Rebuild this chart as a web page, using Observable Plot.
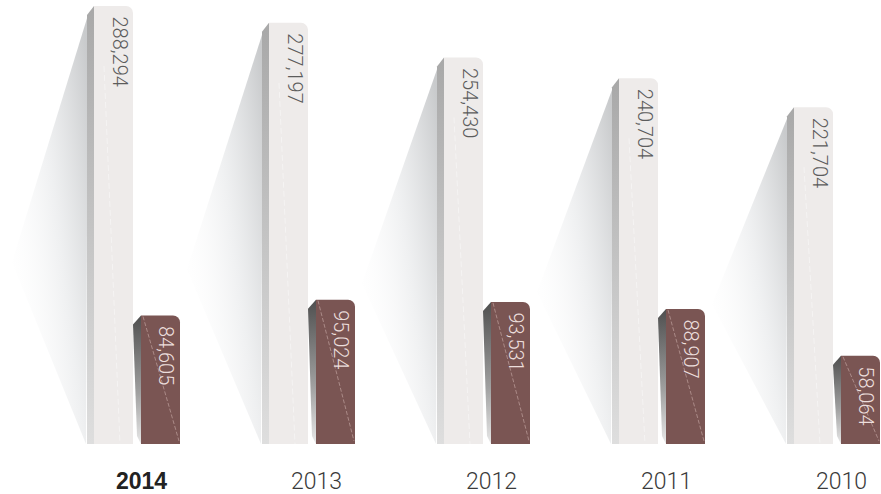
<!DOCTYPE html>
<html>
<head>
<meta charset="utf-8">
<script src="https://cdn.jsdelivr.net/npm/d3@7"></script>
<script src="https://cdn.jsdelivr.net/npm/@observablehq/plot@0.6"></script>
<style>
  html, body { margin: 0; padding: 0; background: #ffffff; }
  #chart svg { display: block; background: #ffffff; }
</style>
</head>
<body>
<div id="chart"></div>
<script>
const years = ["2014", "2013", "2012", "2011", "2010"];
const totals = [288294, 277197, 254430, 240704, 221704];
const subs = [84605, 95024, 93531, 88907, 58064];

const data = years.map((year, i) => ({year, total: totals[i], sub: subs[i]}));
const fmt = d3.format(",");
const FONT = "Roboto, 'Liberation Sans', 'DejaVu Sans', sans-serif";

const GRAY = "#eeebea";
const BROWN = "#7a5553";

// 3D side faces and shadows, positioned by Plot's scales
function depth(index, scales) {
  const x = scales.x, y = scales.y;
  let bw = typeof x.bandwidth === "function" ? x.bandwidth() : x.bandwidth;
  if (!bw) bw = 86;
  const half = bw / 2 + 4;
  const g = d3.create("svg:g");
  const defs = g.append("defs");
  const sh = defs.append("linearGradient").attr("id", "shadowGrad")
    .attr("x1", 1).attr("y1", 0.1).attr("x2", 0).attr("y2", 0.8);
  sh.append("stop").attr("offset", 0).attr("stop-color", "#bfc1c3").attr("stop-opacity", 0.85);
  sh.append("stop").attr("offset", 0.45).attr("stop-color", "#e2e4e6").attr("stop-opacity", 0.55);
  sh.append("stop").attr("offset", 1).attr("stop-color", "#ffffff").attr("stop-opacity", 0);
  const side = defs.append("linearGradient").attr("id", "sideGrad")
    .attr("x1", 0).attr("y1", 0).attr("x2", 0).attr("y2", 1);
  side.append("stop").attr("offset", 0).attr("stop-color", "#a8a8a8");
  side.append("stop").attr("offset", 1).attr("stop-color", "#dedede");
  const bside = defs.append("linearGradient").attr("id", "bsideGrad")
    .attr("x1", 0).attr("y1", 0).attr("x2", 0).attr("y2", 1);
  bside.append("stop").attr("offset", 0).attr("stop-color", "#4f4f4f");
  bside.append("stop").attr("offset", 0.6).attr("stop-color", "#a0a0a0");
  bside.append("stop").attr("offset", 1).attr("stop-color", "#e8e8e8");

  const yb = y(0);
  for (const d of data) {
    const gx0 = x(d.year);
    const yt = y(d.total);
    const tipY = yt + 0.585 * (yb - yt);
    g.append("polygon")
      .attr("points", [[gx0 - 6, yt + 9], [gx0 - 82, tipY], [gx0 - 8, yb]].map(p => p.join(",")).join(" "))
      .attr("fill", "url(#shadowGrad)");
    g.append("polygon")
      .attr("points", [[gx0 - 7, yt + 9], [gx0, yt], [gx0, yb], [gx0 - 7, yb]].map(p => p.join(",")).join(" "))
      .attr("fill", "url(#sideGrad)");
    const bx0 = gx0 + half;
    const yt2 = y(d.sub);
    g.append("polygon")
      .attr("points", [[bx0 - 8, yt2 + 9], [bx0, yt2], [bx0, yb], [bx0 - 4, yb - 8]].map(p => p.join(",")).join(" "))
      .attr("fill", "url(#bsideGrad)");
  }
  return g.node();
}

function diagonals(index, scales) {
  const x = scales.x, y = scales.y;
  let bw = typeof x.bandwidth === "function" ? x.bandwidth() : x.bandwidth;
  if (!bw) bw = 86;
  const half = bw / 2 + 4;
  const barW = bw - half;
  const g = d3.create("svg:g");
  const yb = y(0);
  for (const d of data) {
    const gx0 = x(d.year);
    const yt = y(d.total);
    g.append("line")
      .attr("x1", gx0 + 10).attr("y1", yt + 60)
      .attr("x2", gx0 + 26).attr("y2", yb)
      .attr("stroke", "#ffffff").attr("stroke-width", 1)
      .attr("stroke-dasharray", "6,3").attr("opacity", 0.45);
    const bx0 = gx0 + half;
    const yt2 = y(d.sub);
    g.append("line")
      .attr("x1", bx0 + 2).attr("y1", yt2 + 1)
      .attr("x2", bx0 + barW - 1).attr("y2", yb - 3)
      .attr("stroke", "#d2b5b1").attr("stroke-width", 0.8)
      .attr("stroke-dasharray", "4,2").attr("opacity", 0.7);
  }
  return g.node();
}

const chart = Plot.plot({
  width: 881,
  height: 494,
  marginLeft: 94,
  marginRight: 1,
  marginTop: 6,
  marginBottom: 50,
  style: {background: "#ffffff", fontFamily: FONT},
  x: {type: "band", domain: years, paddingInner: 89 / 175, paddingOuter: 0, axis: null},
  y: {domain: [0, 288294], axis: null},
  marks: [
    depth,
    Plot.barY(data, {x: "year", y: "total", fill: GRAY, insetRight: 47, rx2y1: 7}),
    Plot.barY(data, {x: "year", y: "sub", fill: BROWN, insetLeft: 47, rx2y1: 7}),
    diagonals,
    Plot.text(data, {
      x: "year", y: "total", text: d => fmt(d.total), rotate: 90, textAnchor: "start",
      dx: -18, dy: 10, fill: "#5c5c5c", fontSize: 20, fontWeight: 300, fontFamily: FONT
    }),
    Plot.text(data, {
      x: "year", y: "sub", text: d => fmt(d.sub), rotate: 90, textAnchor: "start",
      dx: 28, dy: 10, fill: "#ecdedc", fontSize: 20, fontWeight: 300, fontFamily: FONT
    }),
    Plot.text(data.filter(d => d.year === "2014"), {
      x: "year", y: () => 0, text: "year", dx: 4, dy: 37,
      fill: "#222222", fontSize: 23, fontWeight: "bold", fontFamily: "'Liberation Sans', Arial, sans-serif"
    }),
    Plot.text(data.filter(d => d.year !== "2014"), {
      x: "year", y: () => 0, text: "year", dx: 4, dy: 37,
      fill: "#3a3a3a", fontSize: 23, fontWeight: 300, fontFamily: FONT
    })
  ]
});
document.getElementById("chart").appendChild(chart);
</script>
</body>
</html>
